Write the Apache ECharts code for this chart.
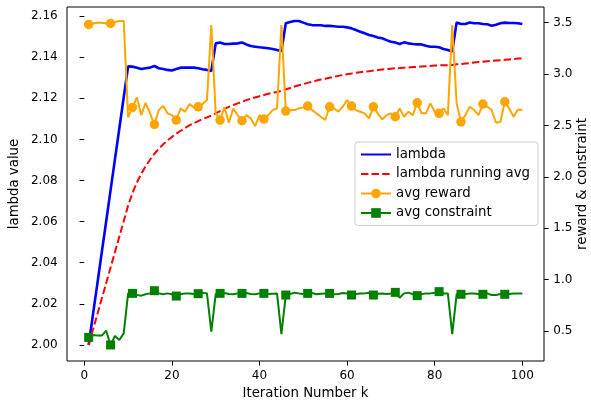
<!DOCTYPE html>
<html>
<head>
<meta charset="utf-8">
<script src="https://cdn.jsdelivr.net/npm/echarts@6/dist/echarts.min.js"></script>
<style>html,body{margin:0;padding:0;background:#fff;}#c{width:591px;height:404px;}</style>
</head>
<body>
<div id="c"></div>
<script>
const iterations = Array.from({length: 100}, (_, i) => i + 1);
const xTicks = [0, 20, 40, 60, 80, 100];
const lambdaTicks = [2.00, 2.02, 2.04, 2.06, 2.08, 2.10, 2.12, 2.14, 2.16];
const rightTicks = [0.5, 1.0, 1.5, 2.0, 2.5, 3.0, 3.5];

const lambdaVals = [
2.0000,2.0151,2.0301,2.0452,2.0602,2.0753,2.0904,2.1054,2.1205,2.1355,
2.1354,2.1349,2.1342,2.1346,2.1349,2.1357,2.1346,2.1342,2.1338,2.1335,
2.1342,2.1349,2.1349,2.1349,2.1349,2.1346,2.1341,2.1338,2.1333,2.1467,
2.1471,2.1464,2.1464,2.1466,2.1467,2.1471,2.1462,2.1454,2.1451,2.1448,
2.1446,2.1443,2.1440,2.1435,2.1430,2.1565,2.1571,2.1576,2.1576,2.1568,
2.1560,2.1556,2.1555,2.1555,2.1552,2.1552,2.1550,2.1548,2.1548,2.1545,
2.1540,2.1532,2.1524,2.1516,2.1508,2.1503,2.1496,2.1492,2.1483,2.1475,
2.1471,2.1464,2.1472,2.1467,2.1464,2.1462,2.1462,2.1456,2.1451,2.1451,
2.1448,2.1440,2.1435,2.1427,2.1569,2.1561,2.1561,2.1569,2.1565,2.1565,
2.1561,2.1560,2.1553,2.1558,2.1565,2.1568,2.1566,2.1566,2.1565,2.1561];

const lambdaAvg = [
2.0000,2.0076,2.0151,2.0226,2.0301,2.0377,2.0452,2.0527,2.0602,2.0678,
2.0739,2.0790,2.0833,2.0869,2.0901,2.0930,2.0954,2.0976,2.0995,2.1012,
2.1028,2.1042,2.1055,2.1068,2.1079,2.1089,2.1099,2.1107,2.1115,2.1127,
2.1138,2.1148,2.1158,2.1167,2.1175,2.1183,2.1191,2.1198,2.1204,2.1210,
2.1216,2.1222,2.1227,2.1231,2.1236,2.1243,2.1250,2.1257,2.1263,2.1269,
2.1275,2.1280,2.1286,2.1291,2.1295,2.1300,2.1304,2.1309,2.1313,2.1317,
2.1320,2.1324,2.1327,2.1330,2.1332,2.1335,2.1337,2.1340,2.1342,2.1344,
2.1346,2.1347,2.1349,2.1350,2.1352,2.1353,2.1355,2.1356,2.1357,2.1359,
2.1360,2.1361,2.1361,2.1362,2.1365,2.1367,2.1369,2.1371,2.1374,2.1376,
2.1378,2.1380,2.1382,2.1384,2.1385,2.1387,2.1389,2.1391,2.1393,2.1394];

const avgReward = [
3.483,3.493,3.499,3.499,3.493,3.493,3.506,3.516,3.516,2.579,
2.676,2.773,2.601,2.721,2.618,2.510,2.650,2.689,2.618,2.601,
2.553,2.666,2.634,2.708,2.676,2.682,2.708,2.747,3.477,2.620,
2.553,2.676,2.527,2.666,2.601,2.546,2.601,2.569,2.494,2.601,
2.562,2.601,2.650,2.666,3.477,2.640,2.650,2.650,2.666,2.676,
2.689,2.650,2.618,2.585,2.553,2.682,2.666,2.634,2.682,2.747,
2.689,2.650,2.634,2.618,2.569,2.682,2.618,2.559,2.601,2.618,
2.585,2.666,2.585,2.634,2.601,2.721,2.618,2.618,2.715,2.634,
2.618,2.666,2.601,3.477,2.715,2.536,2.601,2.682,2.650,2.601,
2.708,2.682,2.650,2.527,2.536,2.731,2.666,2.585,2.656,2.650];

const avgConstraint = [
0.438,0.461,0.455,0.455,0.503,0.364,0.451,0.412,0.477,0.866,
0.866,0.850,0.844,0.857,0.866,0.892,0.866,0.857,0.866,0.857,
0.840,0.857,0.866,0.866,0.860,0.863,0.873,0.866,0.494,0.860,
0.866,0.870,0.860,0.857,0.866,0.866,0.870,0.860,0.857,0.866,
0.866,0.860,0.863,0.866,0.470,0.850,0.860,0.873,0.866,0.860,
0.866,0.870,0.857,0.863,0.866,0.866,0.857,0.860,0.870,0.866,
0.850,0.860,0.866,0.866,0.873,0.850,0.863,0.866,0.860,0.866,
0.876,0.824,0.866,0.873,0.857,0.844,0.857,0.866,0.866,0.873,
0.883,0.866,0.866,0.470,0.857,0.857,0.857,0.866,0.866,0.860,
0.857,0.866,0.850,0.850,0.860,0.857,0.860,0.866,0.866,0.866];

const pair = arr => arr.map((v, i) => [iterations[i], v]);
const FONT = 'DejaVu Sans';
const TICK_FS = 12;
const TITLE_FS = 13.3;
const markEvery = (size) => (val, p) => (p.dataIndex % 5 === 0 ? size : 0);

const chart = echarts.init(document.getElementById('c'), null, {renderer: 'canvas'});
chart.setOption({
  animation: false,
  backgroundColor: '#fff',
  textStyle: {fontFamily: FONT},
  grid: {left: 67, right: 47, top: 7, bottom: 43, containLabel: false, outerBoundsMode: 'none',
         show: true, borderColor: '#000', borderWidth: 1, backgroundColor: 'transparent'},
  legend: {
    left: 355, top: 142, orient: 'vertical',
    itemWidth: 30, itemHeight: 12, itemGap: 3.5,
    padding: [4.5, 8, 4.5, 5],
    borderColor: '#cccccc', borderWidth: 1, borderRadius: 3,
    backgroundColor: 'rgba(255,255,255,0.8)',
    textStyle: {fontFamily: FONT, fontSize: TITLE_FS, color: '#000', lineHeight: 16},
    data: [
      {name: 'lambda', itemStyle: {opacity: 0}},
      {name: 'lambda running avg', itemStyle: {opacity: 0}},
      {name: 'avg reward'},
      {name: 'avg constraint'}
    ]
  },
  xAxis: {
    type: 'value', min: -3.95, max: 104.95,
    name: 'Iteration Number k', nameLocation: 'middle', nameGap: 26, nameMoveOverlap: false,
    nameTextStyle: {fontFamily: FONT, fontSize: TITLE_FS, color: '#000'},
    axisLine: {show: false},
    splitLine: {show: false},
    axisTick: {show: true, inside: false, length: 4.7, lineStyle: {color: '#000'}, customValues: xTicks},
    axisLabel: {customValues: xTicks, margin: 9, fontFamily: FONT, fontSize: TICK_FS, color: '#000', formatter: v => String(v)}
  },
  yAxis: [{
    type: 'value', min: 1.9922, max: 2.1644, position: 'left',
    name: 'lambda value', nameLocation: 'middle', nameGap: 46, nameRotate: 90, nameMoveOverlap: false,
    nameTextStyle: {fontFamily: FONT, fontSize: TITLE_FS, color: '#000'},
    axisLine: {show: false}, splitLine: {show: false},
    axisTick: {show: true, length: 4.7, lineStyle: {color: '#000'}, customValues: lambdaTicks},
    axisLabel: {customValues: lambdaTicks, margin: 9.3, fontFamily: FONT, fontSize: TICK_FS, color: '#000', formatter: v => v.toFixed(2)}
  }, {
    type: 'value', min: 0.208, max: 3.653, position: 'right',
    name: 'reward & constraint', nameLocation: 'middle', nameGap: 32, nameRotate: 90, nameMoveOverlap: false,
    nameTextStyle: {fontFamily: FONT, fontSize: TITLE_FS, color: '#000'},
    axisLine: {show: false}, splitLine: {show: false},
    axisTick: {show: true, length: 4.7, lineStyle: {color: '#000'}, customValues: rightTicks},
    axisLabel: {customValues: rightTicks, margin: 9.3, fontFamily: FONT, fontSize: TICK_FS, color: '#000', formatter: v => v.toFixed(1)}
  }],
  series: [{
    name: 'lambda', type: 'line', yAxisIndex: 0, data: pair(lambdaVals),
    showSymbol: false, symbol: 'none', z: 2,
    lineStyle: {color: '#0000ff', width: 2.6}, itemStyle: {color: '#0000ff'}
  }, {
    name: 'lambda running avg', type: 'line', yAxisIndex: 0, data: pair(lambdaAvg),
    showSymbol: false, symbol: 'none', z: 3,
    lineStyle: {color: '#ff0000', width: 2, type: [7.4, 3.2]}, itemStyle: {color: '#ff0000'}
  }, {
    name: 'avg reward', type: 'line', yAxisIndex: 1, data: pair(avgReward),
    symbol: 'circle', symbolSize: markEvery(9.5), showSymbol: true, z: 4,
    lineStyle: {color: '#ffa500', width: 2}, itemStyle: {color: '#ffa500'}
  }, {
    name: 'avg constraint', type: 'line', yAxisIndex: 1, data: pair(avgConstraint),
    symbol: 'rect', symbolSize: markEvery(9), showSymbol: true, z: 5,
    lineStyle: {color: '#008000', width: 2}, itemStyle: {color: '#008000'}
  }]
});
</script>
</body>
</html>
